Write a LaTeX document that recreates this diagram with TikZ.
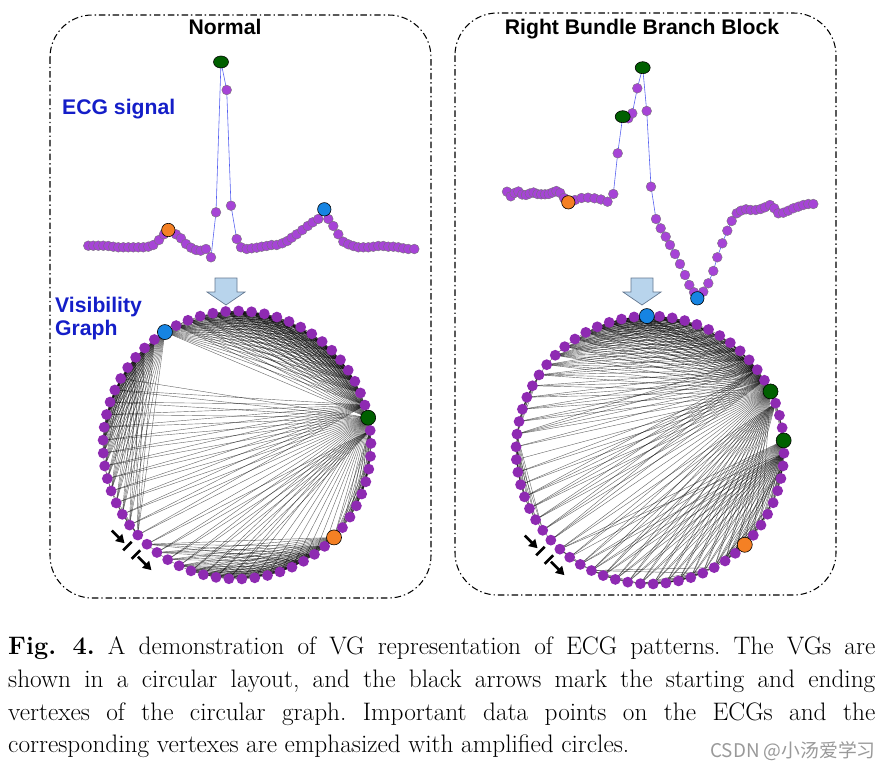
\documentclass[tikz,border=0pt]{standalone}
\usepackage{fontspec}
\usepackage{tikz}
\usetikzlibrary{arrows.meta}

\newfontfamily\arialbf{Liberation Sans}
\newfontfamily\cjkfont{Noto Sans CJK SC}

\definecolor{ecgdot}{RGB}{166,68,214}
\definecolor{vgdot}{RGB}{142,42,178}
\definecolor{ecgline}{RGB}{85,95,240}
\definecolor{rpeak}{RGB}{0,96,0}
\definecolor{pwave}{RGB}{244,128,36}
\definecolor{twave}{RGB}{22,132,226}
\definecolor{txtblue}{RGB}{20,30,200}
\definecolor{flowfill}{RGB}{184,212,236}
\definecolor{flowline}{RGB}{100,120,145}

% samples, x/y in figure pixels (y down)
\def\normalecg{88.3/245.7,93.3/245.7,98.3/245.7,103.3/245.7,108.3/246,113.3/246.7,%
118.3/247.3,123.3/247.3,128.3/247.3,133.3/247.3,138.3/247.3,143.3/247.3,148.3/246.7,%
153.3/245,159/240,164/234.3,168.3/230,176/234.3,181/238.3,186/244,191/247.7,196/250,%
200.7/250.7,206/249,211/257.3,216/212.3,221/62,226.7/90,231/205.7,236.7/239,241/247.3,%
246.7/249,251.7/248.3,256.7/247.7,261.7/246.7,266.7/246,271.7/245,276.7/245,282.3/243.3,%
287.3/241,291.7/237.7,296.7/234.3,302.3/230,307.7/226,312.7/222.3,318.3/219,324.3/209.3,%
328.3/219,333.3/226,338.3/234.3,343.3/241.7,348.3/244.3,353.3/246,358.3/247.3,363.3/247.3,%
368.3/247.3,373.3/246.7,378.3/246,383.3/246,388.3/246.7,393.3/246.7,398.3/247.3,%
403.3/248.3,408.3/249,414.3/249}
\def\rbbbecg{507/191.7,510.8/196.3,514.6/193,518.4/191.5,522.2/194.5,526/195,529.8/193.5,%
533.6/192.5,537.4/194,541.2/194.3,545/194.3,548.8/194,552.6/192.5,556.4/191,560.2/193,%
564/198,568.3/202.3,575/200,581.5/198,588/197.7,594.5/198.3,601/199.5,607.5/201.7,%
613.3/194,617.7/153.3,622.7/116.7,628.3/118.3,632.3/113.3,637.3/88.3,642.7/67.7,%
646.7/111,651/186.7,656/219,660.7/228.3,665.7/236.7,670/245,675/254,680/264,685/275,%
689.3/285,694/292.3,697.3/298.3,703.3/291.7,708.3/283.3,713.3/271,717.3/257.3,%
722.3/243.3,727.3/230.7,731.7/221,736.7/213.3,741/210.7,746/209.3,750.7/210,755.7/210,%
760.7/209,765/207.3,770/205,774.3/208.3,778.3/213.3,783.3/212.7,788.3/210.7,793.3/208.3,%
798.3/206.7,803.3/205,808.3/204,813.3/204}

\begin{document}
\begin{tikzpicture}
[x=0.85pt,y=-0.85pt,
 panel/.style={draw=black,line width=0.9pt,rounded corners=36pt,dash pattern=on 5.5pt off 2.5pt on 1.2pt off 2.5pt},
 ttl/.style={inner sep=0pt,font=\arialbf\bfseries\fontsize{18}{20}\selectfont},
 flow/.style={fill=flowfill,draw=flowline,line width=0.6pt},
 wire/.style={draw=ecgline,line width=0.5pt},
 ecgpt/.style={fill=ecgdot,draw=black!55,line width=0.3pt},
 bigpt/.style={draw=black,line width=0.5pt},
 vg/.style={draw=black,line width=0.35pt,opacity=0.6},
 se/.style={draw=black,line width=2.2pt,arrows={-Triangle[length=7pt,width=8pt]}},
 cut/.style={draw=black,line width=2.2pt}]
\useasboundingbox (0,0) rectangle (886,772);

\draw[panel] (50,15) rectangle (431,598);
\draw[panel] (455,13) rectangle (836,595);

\node[ttl,anchor=base] (normal) at (225,34.5) {Normal};
\node[ttl,anchor=base] (rbbb) at (642,34.5) {Right Bundle Branch Block};
\node[ttl,text=txtblue,anchor=base west] (ecg) at (62,115) {ECG signal};
\node[ttl,text=txtblue,anchor=north west,align=left] (vis) at (55,296.5) {Visibility\\Graph};

% down arrows
\coordinate (Lflow) at (226,278);
\coordinate (Rflow) at (642,278);
\foreach \c in {Lflow,Rflow}
  \draw[flow] (\c) ++(-11,0) -- ++(0,14) -- ++(-8,0) -- ++(19,13) -- ++(19,-13) -- ++(-8,0) -- ++(0,-14) -- cycle;

% traces
\foreach \x/\y [count=\n from 0] in \normalecg {
  \coordinate (Le\n) at (\x,\y);
  \expandafter\xdef\csname Lh\n\endcsname{\y}}
\foreach \x/\y [count=\n from 0] in \rbbbecg {
  \coordinate (Re\n) at (\x,\y);
  \expandafter\xdef\csname Rh\n\endcsname{\y}}

\draw[wire] (Le0) \foreach \n in {1,...,64} {-- (Le\n)};
\draw[wire] (Re0) \foreach \n in {1,...,65} {-- (Re\n)};
\foreach \n in {0,...,64} \filldraw[ecgpt] (Le\n) circle [radius=4.9];
\foreach \n in {0,...,65} \filldraw[ecgpt] (Re\n) circle [radius=4.9];
\foreach \p/\c in {Le16/pwave,Le46/twave,Re16/pwave,Re41/twave}
  \filldraw[bigpt,fill=\c] (\p) circle [radius=6.7];
\foreach \p in {Le26,Re25,Re29}
  \filldraw[bigpt,fill=rpeak] (\p) ellipse [x radius=7.5,y radius=6];

% circular layouts
\coordinate (LC) at (237,445);
\coordinate (RC) at (650,450);
\foreach \s/\m in {L/64,R/65} {
  \pgfmathsetmacro\stp{360/(\m+1)}
  \foreach \n in {0,...,\m}
    \path (\s C) ++({135-(\n+0.5)*\stp}:134) coordinate (\s v\n);
}

% natural visibility: j is seen from i while its slope beats all before it
\foreach \s/\m in {L/64,R/65} {
  \pgfmathtruncatemacro\mm{\m-1}
  \foreach \i in {0,...,\mm} {
    \gdef\vmax{-9999}
    \pgfmathtruncatemacro\jlo{\i+1}
    \foreach \j in {\jlo,...,\m} {
      \pgfmathsetmacro\vs{(\csname\s h\i\endcsname-\csname\s h\j\endcsname)/(\j-\i)}
      \ifdim\vs pt>\vmax pt
        \draw[vg] (\s v\i) -- (\s v\j);
        \global\let\vmax\vs
      \fi
    }
  }
}

\foreach \s/\m in {L/64,R/65}
  \foreach \n in {0,...,\m}
    \fill[vgdot] (\s v\n) circle [radius=5.4];
\foreach \p/\c in {Lv16/pwave,Lv26/rpeak,Lv46/twave,Rv16/pwave,Rv25/rpeak,Rv29/rpeak,Rv41/twave}
  \filldraw[bigpt,fill=\c] (\p) circle [radius=7.5];

% start / end marks
\foreach \s in {L,R} {
  \path (\s C) ++(135:149) coordinate (\s gap);
  \path (\s gap) ++(225:28) coordinate (\s in);
  \path (\s gap) ++(225:10) coordinate (\s inend);
  \path (\s gap) ++(45:9) coordinate (\s out);
  \path (\s gap) ++(45:28) coordinate (\s outend);
  \path (\s gap) ++(225:6) ++(135:6) coordinate (\s cuta);
  \path (\s gap) ++(225:6) ++(315:6) coordinate (\s cutb);
  \path (\s gap) ++(45:6) ++(135:6) coordinate (\s cutc);
  \path (\s gap) ++(45:6) ++(315:6) coordinate (\s cutd);
  \draw[se] (\s in) -- (\s inend);
  \draw[cut] (\s cuta) -- (\s cutb);
  \draw[cut] (\s cutc) -- (\s cutd);
  \draw[se] (\s out) -- (\s outend);
}

\node[anchor=north west,inner sep=0pt,text width=737pt,align=justify,
  font=\fontsize{21.5}{28}\selectfont\frenchspacing] (cap) at (8,636)
  {\textbf{Fig. 4.} A demonstration of VG representation of ECG patterns. The VGs are\linebreak
  shown in a circular layout, and the black arrows mark the starting and ending\linebreak
  vertexes of the circular graph. Important data points on the ECGs and the\linebreak
  corresponding vertexes are emphasized with amplified circles.};
\node[anchor=east,inner sep=0pt,text=black!40,font=\cjkfont\fontsize{16}{18}\selectfont] (wm) at (876,751) {CSDN @小汤爱学习};

\end{tikzpicture}
\end{document}
